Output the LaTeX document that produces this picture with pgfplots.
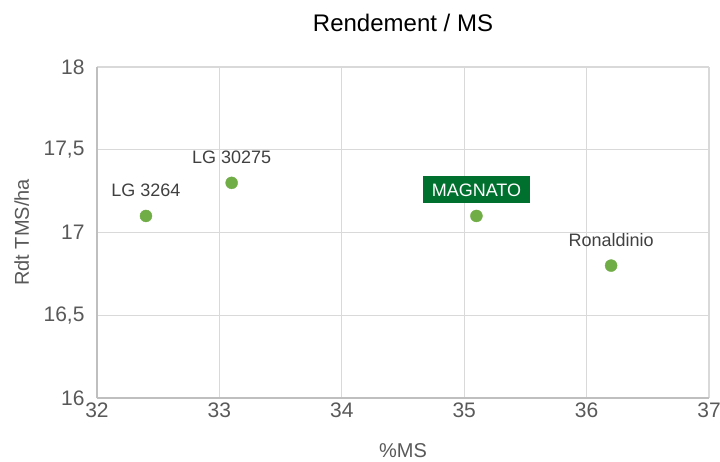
\documentclass[border=0pt]{standalone}
\usepackage{pgfplots}
\pgfplotsset{compat=1.18}
\usepackage{fontspec}
\setmainfont{Liberation Sans}
\definecolor{ptgreen}{HTML}{70AD47}
\definecolor{boxgreen}{HTML}{00702E}
\definecolor{tickgray}{HTML}{595959}
\definecolor{gridgray}{HTML}{D9D9D9}
\definecolor{axisgray}{HTML}{BFBFBF}
\definecolor{lblgray}{HTML}{404040}
\begin{document}
\begin{tikzpicture}
\path[use as bounding box] (-97pt,-63pt) rectangle (623pt,398pt);
\begin{axis}[
  scale only axis,
  width=612pt, height=331pt,
  xmin=32, xmax=37, ymin=16, ymax=18,
  xtick={32,33,34,35,36,37},
  ytick={16,16.5,17,17.5,18},
  yticklabels={16,{16,5},17,{17,5},18},
  xmajorgrids, ymajorgrids,
  grid style={gridgray, line width=1.2pt},
  axis line style={axisgray, line width=1.2pt},
  axis x line*=bottom, axis y line*=left,
  tick style={draw=none},
  /pgf/number format/assume math mode=true,
  ticklabel style={font=\fontsize{21}{25}\selectfont, text=tickgray},
  xticklabel style={yshift=-1pt},
  yticklabel style={xshift=-9pt},
  xlabel={\%MS},
  ylabel={Rdt TMS/ha},
  label style={font=\fontsize{20}{24}\selectfont, text=tickgray},
  xlabel style={at={(axis description cs:0.5,-0.16)}, anchor=center},
  ylabel style={at={(axis description cs:-0.123,0.5)}, anchor=center},
  title={Rendement / MS},
  title style={font=\fontsize{24}{28}\selectfont, text=black, at={(axis description cs:0.5,1.134)}, anchor=center, yshift=-6pt},
  clip=false,
]
\addplot[only marks, mark=*, mark size=6pt, mark options={fill=ptgreen, draw=ptgreen}]
  coordinates {(32.4,17.1) (33.1,17.3) (35.1,17.1) (36.2,16.8)};
\node[font=\fontsize{18}{22}\selectfont, text=lblgray] at (axis cs:32.4,17.1) [yshift=26pt] {LG 3264};
\node[font=\fontsize{18}{22}\selectfont, text=lblgray] at (axis cs:33.1,17.3) [yshift=26pt] {LG 30275};
\node[font=\fontsize{18}{22}\selectfont, text=lblgray] at (axis cs:36.2,16.8) [yshift=26pt] {Ronaldinio};
\node[font=\fontsize{18}{22}\selectfont, text=white, fill=boxgreen, inner xsep=9pt, minimum height=27pt] at (axis cs:35.1,17.1) [yshift=26pt] {MAGNATO};
\end{axis}
\end{tikzpicture}
\end{document}
